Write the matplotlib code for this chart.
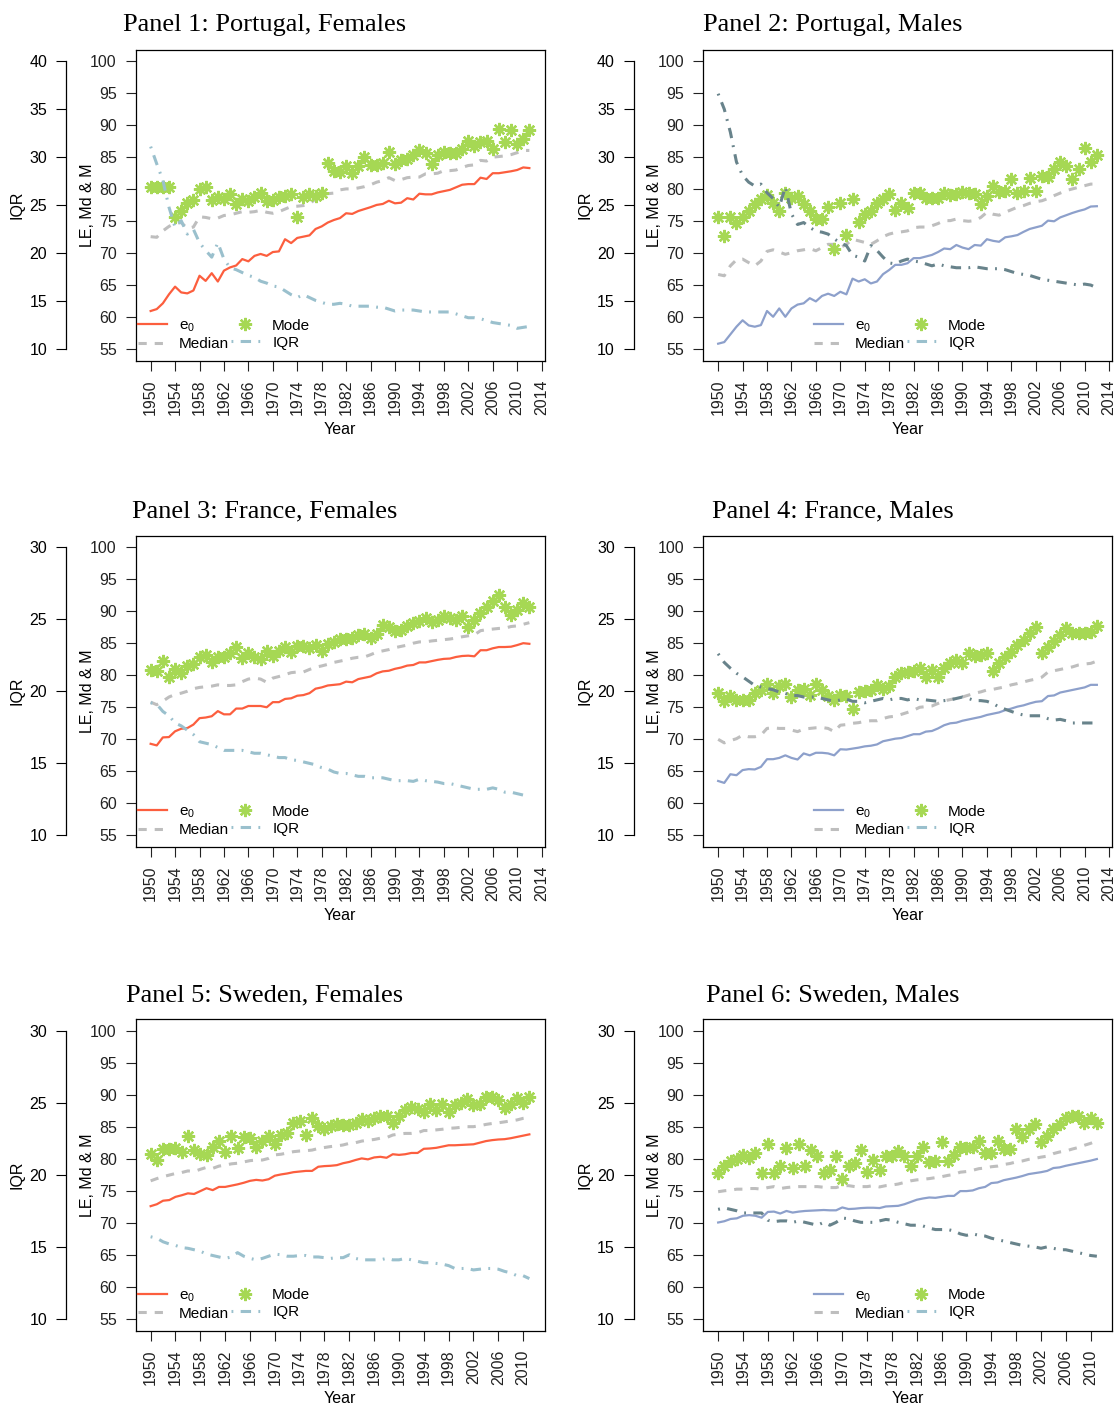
import numpy as np
import matplotlib
matplotlib.use('Agg')
import matplotlib.pyplot as plt
from matplotlib.lines import Line2D

plt.rcParams['font.family'] = ['Liberation Sans', 'DejaVu Sans']
plt.rcParams['mathtext.fontset'] = 'custom'
plt.rcParams['mathtext.rm'] = 'Liberation Sans'
plt.rcParams['mathtext.it'] = 'Liberation Sans'

W, H = 1118, 1407

years_long = np.arange(1950, 2013)   # Portugal, France
years_short = np.arange(1950, 2012)  # Sweden

# ---- Portugal, females ----
por_f_e0 = [61.0, 61.3, 62.2, 63.6, 64.8, 63.9, 63.75, 64.2, 66.5, 65.7,
            66.9, 65.6, 67.3, 67.8, 68.1, 69.1, 68.75, 69.6, 69.9, 69.6,
            70.2, 70.3, 72.2, 71.6, 72.4, 72.6, 72.8, 73.8, 74.2, 74.8,
            75.2, 75.5, 76.25, 76.15, 76.6, 76.9, 77.2, 77.55, 77.7, 78.2,
            77.8, 77.9, 78.6, 78.4, 79.3, 79.2, 79.2, 79.5, 79.7, 79.9,
            80.3, 80.7, 80.8, 80.8, 81.8, 81.6, 82.5, 82.5, 82.65, 82.8,
            83.0, 83.4, 83.3]
por_f_median = [72.6, 72.5, 73.5, 74.2, 74.7, 74.8, 73.9, 74.1, 75.7, 75.6,
                75.4, 75.5, 75.9, 76.0, 76.25, 76.5, 76.4, 76.5, 76.7, 76.4,
                76.25, 76.5, 76.9, 77.3, 77.35, 77.45, 77.7, 78.5, 79.2, 79.3,
                79.4, 79.9, 80.05, 80.05, 80.2, 80.4, 80.7, 81.1, 81.35, 81.8,
                81.35, 81.5, 81.8, 81.9, 81.9, 82.4, 82.4, 82.5, 82.9, 82.9,
                83.0, 83.4, 83.7, 83.8, 84.5, 84.4, 85.0, 85.1, 85.2, 85.4,
                85.7, 86.05, 86.05]
por_f_mode = [80.4, 80.4, 80.4, 80.4, 75.7, 76.6, 77.8, 78.3, 80.05, 80.4,
              78.3, 78.75, 78.5, 79.3, 77.7, 78.5, 78.2, 78.85, 79.4, 78.1,
              78.3, 78.85, 79.0, 79.2, 75.7, 78.75, 79.2, 79.0, 79.4, 84.1,
              82.8, 82.65, 83.7, 82.5, 83.6, 85.0, 83.8, 83.8, 84.1, 85.8,
              84.0, 84.5, 84.7, 85.3, 86.1, 85.6, 83.9, 85.3, 85.8, 85.6,
              85.6, 86.3, 87.5, 86.8, 87.3, 87.6, 86.3, 89.4, 87.3, 89.3,
              87.0, 87.9, 89.2]
por_f_iqr = [31.1, 29.3, 27.6, 24.8, 22.7, 23.4, 22.0, 22.5, 21.1, 20.3,
             19.6, 21.1, 19.4, 18.5, 18.3, 18.0, 17.7, 17.5, 17.1, 16.9,
             16.6, 16.5, 16.1, 15.7, 15.4, 15.7, 15.4, 15.1, 14.9, 14.7,
             14.7, 14.8, 14.7, 14.5, 14.5, 14.5, 14.5, 14.4, 14.4, 14.2,
             14.0, 14.1, 14.1, 14.1, 14.0, 13.9, 13.9, 13.9, 13.9, 13.9,
             13.7, 13.5, 13.3, 13.3, 13.2, 13.0, 12.8, 12.7, 12.6, 12.5,
             12.2, 12.3, 12.4]

# ---- Portugal, males ----
por_m_e0 = [55.9, 56.15, 57.35, 58.55, 59.55, 58.75, 58.55, 58.8, 61.0, 60.1,
            61.4, 60.1, 61.4, 62.0, 62.2, 63.0, 62.5, 63.35, 63.7, 63.35,
            64.0, 63.6, 66.05, 65.6, 65.95, 65.3, 65.6, 66.75, 67.4, 68.2,
            68.2, 68.45, 69.25, 69.25, 69.5, 69.75, 70.2, 70.75, 70.65, 71.3,
            70.9, 70.65, 71.3, 71.2, 72.2, 71.95, 71.8, 72.5, 72.65, 72.85,
            73.35, 73.8, 74.05, 74.3, 75.1, 75.0, 75.6, 75.95, 76.3, 76.6,
            76.85, 77.3, 77.35]
por_m_median = [66.7, 66.5, 68.05, 69.0, 69.1, 68.55, 68.05, 68.8, 70.3, 70.55,
                70.2, 69.85, 70.1, 70.4, 70.55, 70.75, 70.4, 70.9, 71.4, 71.4,
                70.9, 71.4, 72.2, 71.95, 71.7, 71.4, 71.95, 72.6, 73.0, 73.25,
                73.35, 73.5, 74.0, 74.1, 74.1, 74.3, 74.65, 75.1, 75.1, 75.35,
                75.1, 75.0, 75.1, 75.6, 76.4, 76.1, 75.95, 76.4, 76.8, 77.2,
                77.45, 77.8, 78.05, 78.2, 78.55, 79.0, 79.4, 79.8, 80.05, 80.3,
                80.55, 80.8, 80.8]
por_m_mode = [75.6, 72.7, 75.6, 74.8, 75.6, 76.6, 77.7, 78.4, 79.1, 77.8,
              76.6, 79.4, 78.7, 79.0, 77.7, 76.6, 75.3, 75.4, 77.2, 70.65,
              77.8, 72.8, 78.5, 74.9, 76.1, 76.6, 77.8, 78.5, 79.25, 76.8,
              77.8, 77.0, 79.4, 79.4, 78.7, 78.6, 78.6, 79.4, 79.1, 79.25,
              79.5, 79.4, 79.25, 77.7, 78.9, 80.55, 79.5, 79.8, 81.6, 79.4,
              79.8, 81.7, 79.8, 82.1, 81.9, 83.2, 84.3, 83.6, 81.6, 83.2,
              86.4, 84.3, 85.35]
por_m_iqr = [36.6, 35.0, 32.6, 29.5, 28.1, 27.4, 27.0, 27.2, 26.3, 25.7,
             24.8, 26.9, 24.1, 23.0, 23.2, 22.7, 22.3, 22.2, 22.0, 21.5,
             21.1, 20.8, 19.8, 19.6, 19.2, 20.8, 20.3, 19.6, 19.0, 18.9,
             19.2, 19.4, 19.2, 19.1, 18.9, 18.7, 18.9, 18.7, 18.6, 18.5,
             18.5, 18.5, 18.6, 18.5, 18.4, 18.4, 18.4, 18.3, 18.1, 17.9,
             17.8, 17.7, 17.5, 17.3, 17.2, 17.1, 17.0, 16.9, 16.8, 16.7,
             16.8, 16.7, 16.4]

# ---- France, females ----
fra_f_e0 = [69.3, 69.05, 70.3, 70.35, 71.25, 71.65, 71.75, 72.3, 73.3, 73.4,
            73.6, 74.4, 73.9, 73.9, 74.8, 74.8, 75.2, 75.2, 75.2, 75.0,
            75.8, 75.8, 76.3, 76.4, 76.8, 76.9, 77.2, 77.9, 78.1, 78.4,
            78.5, 78.6, 79.0, 78.9, 79.4, 79.6, 79.8, 80.3, 80.6, 80.7,
            81.0, 81.2, 81.5, 81.6, 82.0, 82.0, 82.2, 82.4, 82.55, 82.6,
            82.85, 83.0, 83.05, 82.95, 83.9, 83.9, 84.2, 84.4, 84.4, 84.45,
            84.7, 85.0, 84.9]
fra_f_median = [75.8, 75.4, 75.95, 76.6, 77.0, 77.2, 77.5, 77.9, 78.1, 78.2,
                78.3, 78.5, 78.4, 78.4, 78.5, 79.0, 79.4, 79.55, 79.4, 78.9,
                79.55, 79.8, 80.1, 80.4, 80.5, 80.5, 80.9, 81.25, 81.45, 81.7,
                82.0, 82.2, 82.4, 82.65, 82.8, 82.85, 83.2, 83.6, 83.8, 84.0,
                84.3, 84.5, 84.7, 85.0, 85.2, 85.2, 85.35, 85.45, 85.55, 85.65,
                85.8, 86.0, 86.15, 86.3, 86.95, 87.1, 87.2, 87.3, 87.35, 87.6,
                87.7, 87.95, 88.2]
fra_f_mode = [80.75, 80.65, 82.2, 79.7, 81.0, 80.35, 81.4, 81.7, 82.8, 83.2,
              82.1, 82.8, 82.8, 83.5, 84.4, 82.7, 83.5, 82.8, 82.6, 83.75,
              83.0, 83.75, 84.4, 83.65, 84.55, 84.55, 84.2, 84.7, 83.75, 84.8,
              85.2, 85.6, 85.6, 85.85, 86.35, 86.45, 85.85, 86.45, 87.8, 87.5,
              86.9, 87.1, 87.65, 88.15, 88.5, 89.0, 88.3, 88.65, 89.3, 88.9,
              88.65, 89.3, 87.6, 88.65, 89.7, 90.7, 91.6, 92.5, 90.7, 89.4,
              90.2, 91.25, 90.6]
fra_f_iqr = [19.2, 19.1, 18.6, 18.3, 17.8, 17.6, 17.3, 17.0, 16.5, 16.4,
             16.3, 16.1, 15.9, 15.9, 15.9, 15.9, 15.8, 15.7, 15.7, 15.6,
             15.5, 15.4, 15.4, 15.25, 15.2, 15.1, 15.0, 14.9, 14.7, 14.6,
             14.4, 14.3, 14.3, 14.2, 14.1, 14.1, 14.0, 14.0, 14.0, 13.9,
             13.8, 13.8, 13.8, 13.75, 13.9, 13.8, 13.75, 13.7, 13.6, 13.6,
             13.5, 13.4, 13.3, 13.2, 13.2, 13.2, 13.3, 13.2, 13.0, 13.0,
             12.9, 12.8, 12.8]

# ---- France, males ----
fra_m_e0 = [63.5, 63.2, 64.55, 64.4, 65.2, 65.35, 65.3, 65.7, 66.9, 66.9,
            67.1, 67.5, 67.1, 66.85, 67.8, 67.5, 67.9, 67.9, 67.8, 67.5,
            68.45, 68.4, 68.55, 68.7, 68.9, 69.0, 69.2, 69.7, 69.9, 70.1,
            70.2, 70.5, 70.8, 70.8, 71.2, 71.3, 71.7, 72.2, 72.5, 72.6,
            72.9, 73.1, 73.3, 73.5, 73.8, 74.0, 74.2, 74.55, 74.8, 75.1,
            75.3, 75.6, 75.85, 75.95, 76.75, 76.85, 77.3, 77.5, 77.7, 77.9,
            78.1, 78.5, 78.5]
fra_m_median = [70.0, 69.45, 69.8, 70.1, 70.65, 70.4, 70.4, 70.65, 71.7, 71.8,
                71.7, 71.7, 71.45, 71.2, 71.6, 71.7, 71.8, 71.85, 71.7, 71.2,
                72.2, 72.3, 72.5, 72.6, 72.8, 72.9, 72.9, 73.25, 73.5, 73.6,
                73.9, 74.2, 74.55, 75.0, 75.1, 75.2, 75.6, 76.0, 76.2, 76.4,
                76.6, 76.9, 77.2, 77.4, 77.7, 77.8, 78.0, 78.2, 78.5, 78.7,
                78.95, 79.2, 79.4, 79.7, 80.5, 80.7, 80.9, 81.1, 81.3, 81.6,
                81.75, 81.85, 82.2]
fra_m_mode = [77.3, 76.0, 76.75, 76.2, 76.1, 76.1, 77.2, 77.7, 78.7, 77.2,
              78.25, 78.65, 76.6, 77.7, 77.8, 76.9, 78.7, 77.7, 76.75, 76.1,
              76.9, 76.75, 74.8, 77.4, 77.5, 77.7, 78.5, 77.8, 78.3, 79.7,
              80.3, 80.55, 80.7, 81.1, 79.8, 80.8, 79.7, 81.2, 81.85, 82.4,
              81.85, 83.4, 83.0, 83.2, 83.4, 80.7, 81.85, 82.8, 83.7, 84.7,
              85.5, 86.65, 87.6, 83.4, 84.45, 85.35, 86.3, 87.3, 86.65, 86.65,
              86.65, 86.8, 87.7]
fra_m_iqr = [22.6, 22.0, 21.6, 21.25, 21.0, 20.7, 20.4, 20.3, 20.2, 20.1,
             19.95, 19.85, 19.7, 19.7, 19.6, 19.6, 19.6, 19.5, 19.4, 19.3,
             19.4, 19.45, 19.3, 19.3, 19.2, 19.3, 19.4, 19.5, 19.4, 19.5,
             19.5, 19.4, 19.5, 19.4, 19.4, 19.35, 19.3, 19.35, 19.4, 19.5,
             19.6, 19.5, 19.35, 19.35, 19.3, 19.15, 18.9, 18.75, 18.6, 18.45,
             18.35, 18.3, 18.3, 18.3, 18.1, 18.0, 18.05, 17.95, 17.8, 17.8,
             17.8, 17.8, 17.8]

# ---- Sweden, females ----
swe_f_e0 = [72.6, 72.9, 73.45, 73.55, 74.05, 74.3, 74.6, 74.5, 74.95, 75.4,
            75.1, 75.6, 75.6, 75.8, 76.0, 76.25, 76.55, 76.7, 76.6, 76.8,
            77.35, 77.55, 77.7, 77.9, 78.0, 78.1, 78.1, 78.75, 78.85, 78.9,
            79.0, 79.3, 79.5, 79.8, 80.05, 79.9, 80.2, 80.3, 80.15, 80.7,
            80.6, 80.7, 80.9, 80.9, 81.55, 81.6, 81.7, 81.9, 82.1, 82.1,
            82.15, 82.2, 82.25, 82.5, 82.75, 82.9, 83.0, 83.05, 83.2, 83.4,
            83.6, 83.8]
swe_f_median = [76.55, 76.9, 77.2, 77.45, 77.7, 77.85, 78.1, 78.0, 78.35, 78.65,
                78.5, 78.85, 79.0, 79.2, 79.3, 79.5, 79.7, 79.8, 79.8, 80.05,
                80.6, 80.7, 80.9, 81.1, 81.2, 81.25, 81.35, 81.6, 81.75, 81.9,
                82.0, 82.15, 82.4, 82.5, 82.75, 82.9, 83.0, 83.2, 83.3, 83.7,
                83.85, 83.95, 83.95, 84.05, 84.4, 84.4, 84.5, 84.6, 84.75, 84.8,
                84.9, 85.0, 85.0, 85.15, 85.35, 85.5, 85.6, 85.75, 85.9, 86.05,
                86.3, 86.45]
swe_f_mode = [80.7, 79.8, 81.45, 81.45, 81.6, 81.1, 83.55, 81.35, 80.7, 80.6,
              81.9, 82.8, 81.1, 83.55, 81.6, 83.45, 83.2, 81.9, 82.8, 83.55,
              82.3, 83.7, 84.05, 85.5, 85.95, 83.7, 86.3, 85.1, 84.6, 85.1,
              85.35, 85.25, 85.25, 85.6, 86.15, 85.95, 86.3, 86.65, 86.65, 85.5,
              86.65, 87.6, 88.0, 87.7, 87.35, 88.55, 87.6, 88.55, 87.35, 88.4,
              88.65, 89.3, 88.4, 88.55, 89.6, 89.6, 89.2, 87.9, 88.55, 89.45,
              88.65, 89.6]
swe_f_iqr = [15.7, 15.6, 15.35, 15.2, 15.1, 14.95, 14.9, 14.8, 14.7, 14.5,
             14.4, 14.3, 14.2, 14.3, 14.6, 14.35, 14.2, 14.1, 14.2, 14.35,
             14.5, 14.45, 14.35, 14.35, 14.4, 14.4, 14.3, 14.3, 14.25, 14.2,
             14.25, 14.25, 14.45, 14.2, 14.1, 14.1, 14.1, 14.1, 14.2, 14.1,
             14.1, 14.2, 14.1, 14.0, 13.9, 13.9, 13.85, 13.8, 13.7, 13.5,
             13.5, 13.5, 13.4, 13.45, 13.5, 13.5, 13.45, 13.3, 13.2, 13.0,
             13.0, 12.8]

# ---- Sweden, males ----
swe_m_e0 = [70.05, 70.25, 70.6, 70.7, 71.1, 71.2, 71.1, 70.8, 71.7, 71.75,
            71.45, 71.85, 71.6, 71.75, 71.85, 71.9, 71.95, 72.0, 71.95, 71.95,
            72.4, 72.15, 72.2, 72.3, 72.35, 72.35, 72.3, 72.55, 72.6, 72.65,
            72.9, 73.25, 73.6, 73.8, 73.95, 73.9, 74.05, 74.2, 74.2, 74.95,
            74.95, 75.05, 75.4, 75.6, 76.2, 76.3, 76.65, 76.85, 77.05, 77.3,
            77.6, 77.75, 77.9, 78.1, 78.55, 78.65, 78.9, 79.1, 79.3, 79.5,
            79.7, 79.95]
swe_m_median = [74.85, 75.0, 75.1, 75.25, 75.25, 75.35, 75.35, 75.25, 75.5, 75.65,
                75.35, 75.5, 75.6, 75.65, 75.65, 75.65, 75.65, 75.55, 75.5, 75.5,
                75.8, 75.8, 75.65, 75.65, 75.65, 75.8, 75.6, 75.8, 75.9, 76.05,
                76.3, 76.55, 76.7, 76.8, 76.9, 77.05, 77.2, 77.4, 77.55, 77.9,
                78.0, 78.2, 78.45, 78.55, 78.75, 78.85, 79.1, 79.25, 79.5, 79.65,
                79.9, 80.05, 80.25, 80.4, 80.8, 81.05, 81.2, 81.5, 81.75, 82.1,
                82.4, 82.8]
swe_m_mode = [77.85, 78.9, 79.65, 79.9, 80.55, 80.05, 80.9, 77.85, 82.3, 77.75,
              78.8, 81.6, 78.5, 82.3, 78.8, 81.3, 80.4, 77.85, 78.25, 80.45,
              76.8, 78.9, 79.3, 81.3, 78.0, 79.75, 78.3, 80.45, 80.35, 81.25,
              80.45, 78.8, 80.45, 81.9, 79.5, 79.65, 82.6, 79.65, 80.55, 81.9,
              81.75, 81.9, 82.7, 80.9, 80.9, 82.7, 81.55, 81.5, 84.6, 83.45,
              84.6, 85.4, 82.6, 83.55, 84.7, 85.4, 86.4, 86.6, 86.7, 85.65,
              86.4, 85.65]
swe_m_iqr = [17.6, 17.7, 17.6, 17.5, 17.35, 17.35, 17.35, 17.35, 16.85, 16.75,
             16.8, 16.8, 16.7, 16.8, 16.7, 16.6, 16.5, 16.7, 16.5, 16.7,
             17.0, 16.95, 16.8, 16.7, 16.7, 16.7, 16.8, 16.9, 16.85, 16.7,
             16.6, 16.5, 16.5, 16.45, 16.3, 16.2, 16.2, 16.2, 16.1, 15.9,
             15.8, 15.9, 15.8, 15.75, 15.6, 15.5, 15.4, 15.3, 15.2, 15.1,
             15.05, 15.0, 14.9, 15.0, 14.9, 14.8, 14.8, 14.7, 14.6, 14.5,
             14.4, 14.35]

titles = ['Panel 1: Portugal, Females', 'Panel 2: Portugal, Males',
          'Panel 3: France, Females', 'Panel 4: France, Males',
          'Panel 5: Sweden, Females', 'Panel 6: Sweden, Males']

# colours
FEMALE_E0 = '#fc5e3e'
MALE_E0 = '#8da0cb'
MODE_COL = '#a6d854'
MEDIAN_COL = '#bebebe'
IQR_LIGHT = '#9ac0cd'
IQR_DARK = '#68838b'

DASHED = (0, (2.7, 2.6))
DOTDASH = (0, (0.6, 2.4, 3.4, 2.4))
STAR = (8, 2, 0)

LE_LO, LE_HI = 55, 100

# panel geometry in pixels
LEFTS = [135.5, 703.0]
TOPS = [49.5, 535.5, 1019.0]
AX_W, AX_H = 409.0, 311.5
TITLE_X = [265, 833]


def rect(left, top, w, h):
    return [left / W, 1 - (top + h) / H, w / W, h / H]


def draw_panel(fig, col, row, title, years, e0, median, mode, iqr, iqr_top):
    male = col == 1
    left, top = LEFTS[col], TOPS[row]
    ax = fig.add_axes(rect(left, top, AX_W, AX_H))

    span = years[-1] - years[0]
    xlim = (years[0] - 0.04 * span, years[-1] + 0.04 * span)
    ylim = (LE_LO - 0.04 * (LE_HI - LE_LO), LE_HI + 0.04 * (LE_HI - LE_LO))

    # IQR sits on its own scale, mapped onto the LE range
    iqr_le = LE_LO + (np.array(iqr) - 10) * (LE_HI - LE_LO) / (iqr_top - 10)

    ax.plot(years, e0, color=MALE_E0 if male else FEMALE_E0, lw=1.6, zorder=2)
    ax.plot(years, median, color=MEDIAN_COL, lw=2.2, ls=DASHED, zorder=2)
    ax.plot(years, mode, ls='none', marker=STAR, ms=9.5, mew=1.7,
            color=MODE_COL, zorder=3)
    ax.plot(years, iqr_le, color=IQR_DARK if male else IQR_LIGHT, lw=2.2,
            ls=DOTDASH, zorder=4)

    ax.set_xlim(xlim)
    ax.set_ylim(ylim)
    xt = [t for t in range(1950, 2015, 4) if xlim[0] <= t <= xlim[1]]
    ax.set_xticks(xt)
    ax.set_xticklabels([str(t) for t in xt], rotation=90)
    ax.set_yticks(range(LE_LO, LE_HI + 1, 5))
    ax.tick_params(direction='out', length=7, width=0.8, labelsize=11.5,
                   pad=6.5, colors='#222222')
    for s in ax.spines.values():
        s.set_linewidth(0.9)

    # separate IQR axis to the left
    iax = fig.add_axes(rect(left - 69.5, top, 0.01, AX_H))
    k = (iqr_top - 10) / (LE_HI - LE_LO)
    iax.set_ylim(10 + (ylim[0] - LE_LO) * k, 10 + (ylim[1] - LE_LO) * k)
    iax.set_xticks([])
    iax.set_yticks(range(10, iqr_top + 1, 5))
    iax.tick_params(direction='out', length=7, width=0.8, labelsize=11.5,
                    pad=6.5)
    for name in ['top', 'right', 'bottom']:
        iax.spines[name].set_visible(False)
    iax.spines['left'].set_bounds(10, iqr_top)
    iax.spines['left'].set_linewidth(0.9)
    iax.patch.set_alpha(0)

    # axis titles
    fig.text((left - 118.5) / W, 1 - (top + AX_H / 2) / H, 'IQR', rotation=90,
             ha='center', va='center', fontsize=11.5)
    fig.text((left - 48.5) / W, 1 - (top + AX_H / 2) / H, 'LE, Md & M',
             rotation=90, ha='center', va='center', fontsize=11.5)
    fig.text((left + AX_W / 2) / W, 1 - (top + AX_H + 68) / H, 'Year',
             ha='center', va='center', fontsize=11.5)
    fig.text(TITLE_X[col] / W, 1 - (top - 18) / H, title, ha='center',
             va='baseline', fontsize=19, family='Liberation Serif')

    handles = [
        Line2D([], [], color=MALE_E0 if male else FEMALE_E0, lw=1.6),
        Line2D([], [], color=MEDIAN_COL, lw=2.2, ls=DASHED),
        Line2D([], [], ls='none', marker=STAR, ms=9.5, mew=1.7, color=MODE_COL),
        Line2D([], [], color=IQR_LIGHT, lw=2.2, ls=DOTDASH),
    ]
    labels = ['e$_0$', 'Median', 'Mode', 'IQR']
    leg_x = left + (111 if male else 2.5)
    ax.legend(handles, labels, ncol=2, loc='center left',
              bbox_to_anchor=(leg_x / W, 1 - (top + 285.5) / H),
              bbox_transform=fig.transFigure, frameon=False, fontsize=11,
              handlelength=1.9, handletextpad=0.8, columnspacing=0.1,
              labelspacing=0.2, borderpad=0, borderaxespad=0)


fig = plt.figure(figsize=(W / 100, H / 100), dpi=100)

panels = [
    (years_long, por_f_e0, por_f_median, por_f_mode, por_f_iqr, 40),
    (years_long, por_m_e0, por_m_median, por_m_mode, por_m_iqr, 40),
    (years_long, fra_f_e0, fra_f_median, fra_f_mode, fra_f_iqr, 30),
    (years_long, fra_m_e0, fra_m_median, fra_m_mode, fra_m_iqr, 30),
    (years_short, swe_f_e0, swe_f_median, swe_f_mode, swe_f_iqr, 30),
    (years_short, swe_m_e0, swe_m_median, swe_m_mode, swe_m_iqr, 30),
]

for i, (yrs, e0, med, mode, iqr, iqr_top) in enumerate(panels):
    draw_panel(fig, i % 2, i // 2, titles[i], yrs, e0, med, mode, iqr, iqr_top)

fig.savefig('out.png', dpi=100)
